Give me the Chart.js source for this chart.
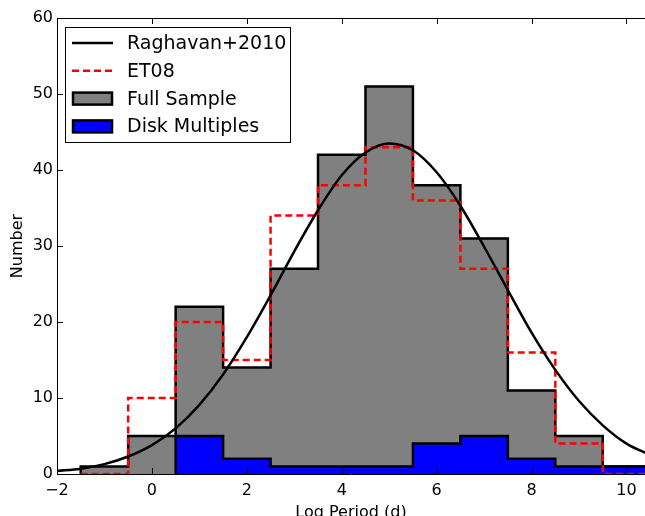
<!DOCTYPE html>
<html>
<head>
<meta charset="utf-8">
<script src="https://cdn.jsdelivr.net/npm/chart.js@4"></script>
<style>
  html, body { margin: 0; padding: 0; background: #fff; }
  #wrap { width: 645px; height: 516px; }
</style>
</head>
<body>
<div id="wrap"><canvas id="myChart"></canvas></div>
<script>
// histogram bin edges (log period, days)
const binEdges = [-1.5, -0.5, 0.5, 1.5, 2.5, 3.5, 4.5, 5.5, 6.5, 7.5, 8.5, 9.5, 10.5];
const fullCounts = [1, 5, 22, 14, 27, 42, 51, 38, 31, 11, 5, 1];
const et08Counts = [0, 10, 20, 15, 34, 38, 43, 36, 27, 16, 4, 0];
const diskCounts = [0, 0, 5, 2, 1, 1, 1, 4, 5, 2, 1, 1];

// Raghavan+2010 curve
const curveX = [-2, -1.5, -1, -0.5, 0, 0.5, 1, 1.5, 2, 2.5, 3, 3.5, 4, 4.5, 5, 5.5, 6, 6.5, 7, 7.5, 8, 8.5, 9, 9.5, 10, 10.5];
const curveY = [0.4, 0.7, 1.3, 2.3, 3.8, 6.0, 9.1, 13.1, 18.0, 23.5, 29.3, 34.7, 39.3, 42.3, 43.5, 42.6, 39.7, 35.3, 29.9, 24.2, 18.6, 13.7, 9.6, 6.4, 4.0, 2.5];

const xTicks = [-2, 0, 2, 4, 6, 8, 10];
const yTicks = [0, 10, 20, 30, 40, 50, 60];

const FONT = "'DejaVu Sans', sans-serif";

function stepPoints(edges, counts) {
  const pts = [{ x: edges[0], y: 0 }];
  counts.forEach((c, i) => pts.push({ x: edges[i], y: c }));
  pts.push({ x: edges[edges.length - 1], y: 0 });
  return pts;
}

const fmt = (v) => (v < 0 ? "\u2212" + Math.abs(v) : String(v));

// inward ticks on bottom, top and left, plus top spine
const tickPlugin = {
  id: "inTicks",
  afterDatasetsDraw(chart) {
    const { ctx, chartArea: a, scales } = chart;
    ctx.save();
    ctx.strokeStyle = "#000";
    ctx.lineWidth = 1;
    ctx.beginPath();
    ctx.moveTo(a.left, a.top + 0.5);
    ctx.lineTo(a.right, a.top + 0.5);
    xTicks.forEach((v) => {
      const x = Math.round(scales.x.getPixelForValue(v)) + 0.5;
      ctx.moveTo(x, a.bottom);
      ctx.lineTo(x, a.bottom - 6);
      ctx.moveTo(x, a.top);
      ctx.lineTo(x, a.top + 6);
    });
    yTicks.forEach((v) => {
      const y = Math.round(scales.y.getPixelForValue(v)) + 0.5;
      ctx.moveTo(a.left, y);
      ctx.lineTo(a.left + 6, y);
    });
    ctx.stroke();
    ctx.restore();
  },
};

// legend box inside the axes, upper left
const legendPlugin = {
  id: "boxLegend",
  afterDraw(chart) {
    const ctx = chart.ctx;
    const entries = [0, 1, 2, 3].map((i) => chart.data.datasets[i]);
    const bx = 65.5, by = 27.5, bw = 225, bh = 115;
    ctx.save();
    ctx.fillStyle = "#fff";
    ctx.fillRect(bx, by, bw, bh);
    ctx.strokeStyle = "#000";
    ctx.lineWidth = 1;
    ctx.strokeRect(bx, by, bw, bh);
    ctx.font = "19px " + FONT;
    ctx.textBaseline = "middle";
    entries.forEach((ds, i) => {
      const cy = 43 + i * 27.8;
      if (ds.fill) {
        ctx.fillStyle = ds.backgroundColor;
        ctx.fillRect(73, cy - 6, 39, 12);
        ctx.strokeStyle = "#000";
        ctx.lineWidth = 2.5;
        ctx.strokeRect(73, cy - 6, 39, 12);
      } else {
        ctx.strokeStyle = ds.borderColor;
        ctx.lineWidth = 2.5;
        ctx.setLineDash(ds.borderDash || []);
        ctx.beginPath();
        ctx.moveTo(72, cy);
        ctx.lineTo(113, cy);
        ctx.stroke();
        ctx.setLineDash([]);
      }
      ctx.fillStyle = "#000";
      ctx.fillText(ds.label, 127, cy + 1);
    });
    ctx.restore();
  },
};

const ctx = document.getElementById("myChart").getContext("2d");
const myChart = new Chart(ctx, {
  type: "line",
  data: {
    datasets: [
      {
        label: "Raghavan+2010",
        data: curveX.map((x, i) => ({ x: x, y: curveY[i] })),
        borderColor: "#000",
        borderWidth: 2.5,
        fill: false,
        cubicInterpolationMode: "monotone",
        pointRadius: 0,
        order: 0,
      },
      {
        label: "ET08",
        data: stepPoints(binEdges, et08Counts),
        borderColor: "#ff0000",
        borderWidth: 2.5,
        borderDash: [7, 4],
        fill: false,
        stepped: true,
        pointRadius: 0,
        order: 1,
      },
      {
        label: "Full Sample",
        data: stepPoints(binEdges, fullCounts),
        borderColor: "#000",
        backgroundColor: "#808080",
        borderWidth: 2.5,
        fill: "origin",
        stepped: true,
        pointRadius: 0,
        order: 3,
      },
      {
        label: "Disk Multiples",
        data: stepPoints(binEdges.slice(2), diskCounts.slice(2)),
        borderColor: "#000",
        backgroundColor: "#0000ff",
        borderWidth: 2.5,
        fill: "origin",
        stepped: true,
        pointRadius: 0,
        order: 2,
      },
    ],
  },
  options: {
    responsive: true,
    maintainAspectRatio: false,
    animation: false,
    layout: { padding: { top: 18, right: 0, left: 0, bottom: 0 } },
    plugins: { legend: { display: false }, tooltip: { enabled: false } },
    scales: {
      x: {
        type: "linear",
        min: -2,
        max: 10.39,
        afterBuildTicks: (s) => (s.ticks = xTicks.map((v) => ({ value: v }))),
        afterFit: (s) => (s.height = 42),
        grid: { display: false, tickLength: 0 },
        border: { display: true, color: "#000", width: 1 },
        ticks: {
          color: "#000",
          font: { family: FONT, size: 16 },
          padding: 7,
          maxRotation: 0,
          callback: (v) => fmt(v),
        },
        title: {
          display: true,
          text: "Log Period (d)",
          color: "#000",
          font: { family: FONT, size: 16 },
          padding: { top: 0, bottom: -6 },
        },
      },
      y: {
        min: 0,
        max: 60,
        afterBuildTicks: (s) => (s.ticks = yTicks.map((v) => ({ value: v }))),
        afterFit: (s) => (s.width = 57),
        grid: { display: false, tickLength: 0 },
        border: { display: true, color: "#000", width: 1 },
        ticks: {
          color: "#000",
          font: { family: FONT, size: 16 },
          padding: 4,
          callback: (v) => fmt(v),
        },
        title: {
          display: true,
          text: "Number",
          color: "#000",
          font: { family: FONT, size: 16 },
          padding: { top: 8, bottom: 0 },
        },
      },
    },
  },
  plugins: [tickPlugin, legendPlugin],
});
</script>
</body>
</html>
